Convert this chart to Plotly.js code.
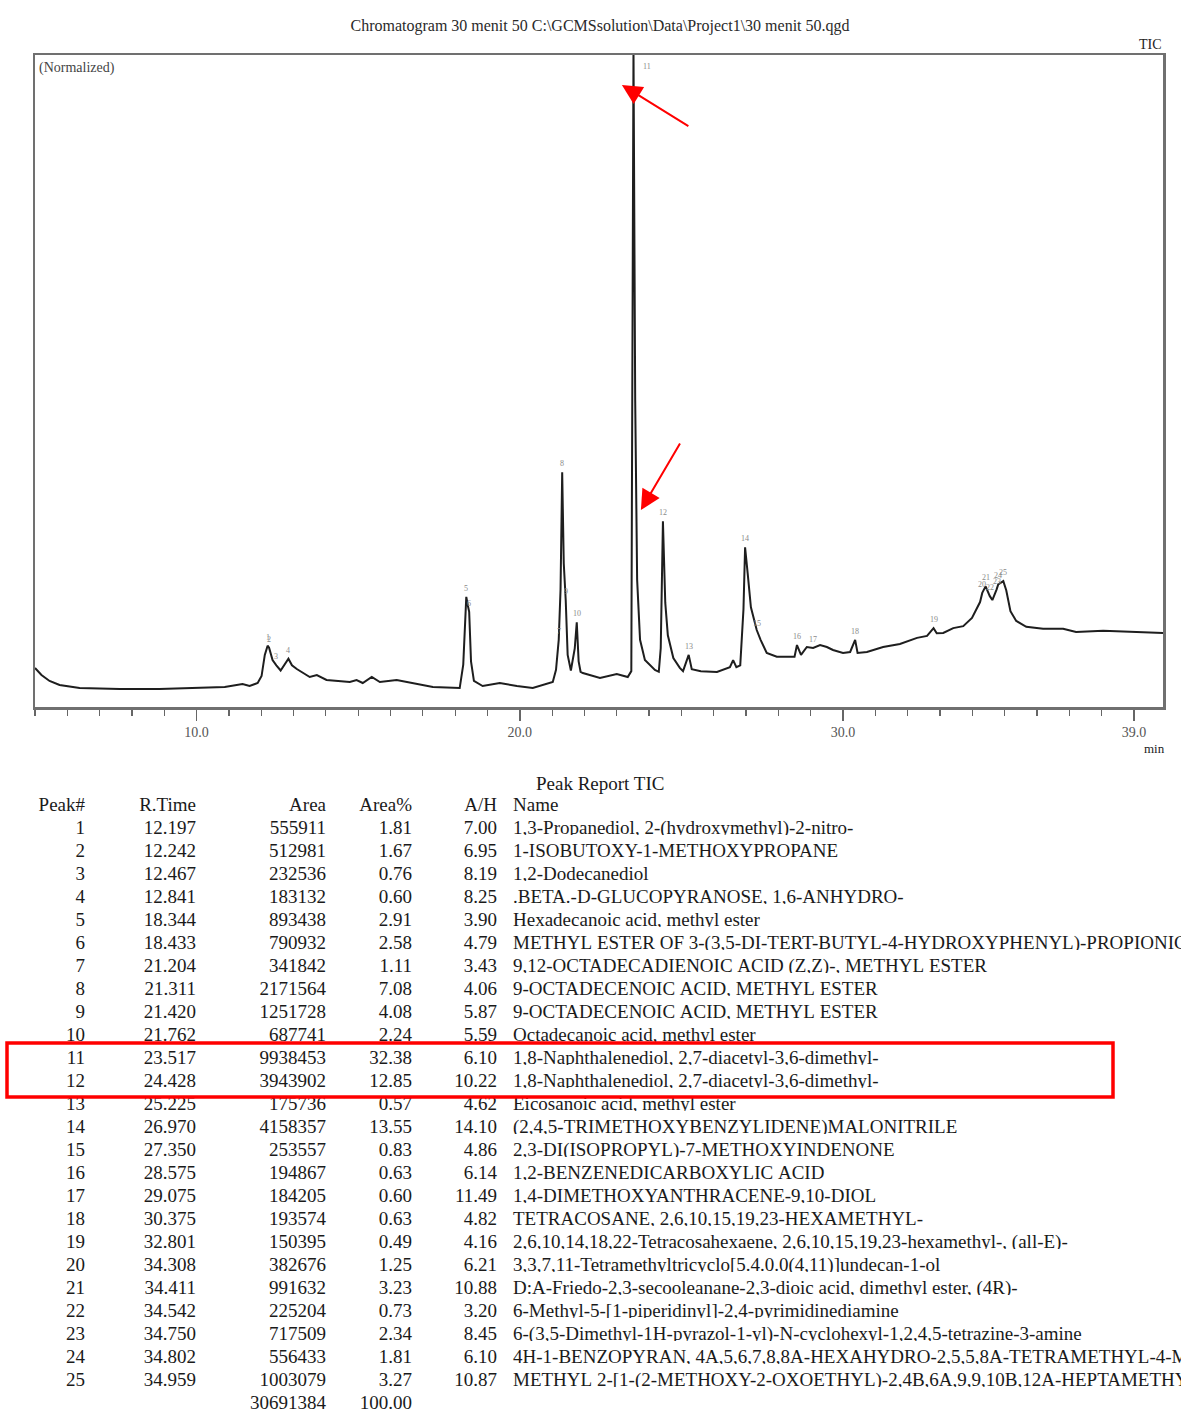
<!DOCTYPE html>
<html>
<head>
<meta charset="utf-8">
<script src="https://cdn.plot.ly/plotly-3.0.1.min.js"></script>
<style>html,body{margin:0;padding:0;background:#fff;}#chart{width:1181px;height:1410px;}</style>
</head>
<body>
<div id="chart"></div>
<script>
// ---- Chromatogram trace (TIC, normalized) ----
const ticTime = [5.00,5.20,5.45,5.76,6.38,7.62,8.85,10.09,10.87,11.42,11.64,11.89,12.01,12.11,12.197,12.242,12.35,12.467,12.60,12.841,12.95,13.10,13.50,13.72,14.02,14.74,14.95,15.14,15.42,15.67,16.19,17.31,18.14,18.25,18.344,18.39,18.433,18.49,18.58,18.85,19.38,19.91,20.40,21.02,21.12,21.204,21.26,21.311,21.36,21.420,21.48,21.58,21.70,21.762,21.82,21.88,21.95,22.48,23.00,23.34,23.45,23.517,23.57,23.63,23.72,23.87,24.18,24.30,24.36,24.428,24.50,24.58,24.75,24.95,25.05,25.225,25.32,25.60,26.10,26.50,26.60,26.70,26.82,26.92,26.970,27.05,27.15,27.33,27.45,27.64,27.95,28.50,28.575,28.70,28.88,29.075,29.29,29.50,29.69,30.00,30.22,30.375,30.45,30.74,31.24,31.76,32.29,32.60,32.801,32.90,33.10,33.41,33.72,33.99,34.24,34.308,34.411,34.542,34.62,34.750,34.802,34.959,35.05,35.18,35.36,35.67,36.19,36.81,37.21,38.05,39.08,39.90];
const ticIntensity = [5.98,4.91,3.99,3.37,2.91,2.76,2.76,2.91,3.07,3.53,3.22,3.68,4.75,7.98,9.4,9.1,7.2,6.4,5.6,7.4,6.4,5.83,4.60,4.91,4.14,3.83,4.14,3.68,4.60,3.83,4.14,3.07,2.91,6.5,16.9,15.6,14.6,7.0,3.99,3.22,3.68,3.22,2.91,3.83,5.7,10.3,18.0,36.0,22.0,16.4,8.0,5.6,9.0,13.0,7.0,5.4,5.21,4.45,5.06,4.60,5.5,101,47,19.5,10.3,7.2,5.67,5.4,9.0,28.5,16.0,11.0,7.5,6.0,5.5,8.0,5.8,5.5,5.37,6.1,7.2,6.1,6.4,15.0,24.5,20.5,15.3,11.8,10.3,8.3,7.7,7.7,9.5,8.0,9.2,9.05,9.5,9.2,8.74,8.28,8.44,10.3,8.3,8.44,9.2,9.66,10.6,10.9,12.1,11.3,11.35,12.1,12.4,13.65,16.1,17.5,18.5,17.0,16.4,18.0,18.8,19.3,17.9,14.7,13.2,12.3,12.0,12.0,11.5,11.7,11.5,11.35];

// ---- Axis tick labels ----
const xTickVals = [10, 20, 30, 39];
const xTickText = ['10.0', '20.0', '30.0', '39.0'];

// ---- Peak report table ----
const peakNo = ['1','2','3','4','5','6','7','8','9','10','11','12','13','14','15','16','17','18','19','20','21','22','23','24','25'];
const rTime = [12.197,12.242,12.467,12.841,18.344,18.433,21.204,21.311,21.420,21.762,23.517,24.428,25.225,26.970,27.350,28.575,29.075,30.375,32.801,34.308,34.411,34.542,34.750,34.802,34.959];
const area = [555911,512981,232536,183132,893438,790932,341842,2171564,1251728,687741,9938453,3943902,175736,4158357,253557,194867,184205,193574,150395,382676,991632,225204,717509,556433,1003079];
const areaPct = ['1.81','1.67','0.76','0.60','2.91','2.58','1.11','7.08','4.08','2.24','32.38','12.85','0.57','13.55','0.83','0.63','0.60','0.63','0.49','1.25','3.23','0.73','2.34','1.81','3.27'];
const aH = ['7.00','6.95','8.19','8.25','3.90','4.79','3.43','4.06','5.87','5.59','6.10','10.22','4.62','14.10','4.86','6.14','11.49','4.82','4.16','6.21','10.88','3.20','8.45','6.10','10.87'];
const names = [
 '1,3-Propanediol, 2-(hydroxymethyl)-2-nitro-',
 '1-ISOBUTOXY-1-METHOXYPROPANE',
 '1,2-Dodecanediol',
 '.BETA.-D-GLUCOPYRANOSE, 1,6-ANHYDRO-',
 'Hexadecanoic acid, methyl ester',
 'METHYL ESTER OF 3-(3,5-DI-TERT-BUTYL-4-HYDROXYPHENYL)-PROPIONIC ACID',
 '9,12-OCTADECADIENOIC ACID (Z,Z)-, METHYL ESTER',
 '9-OCTADECENOIC ACID, METHYL ESTER',
 '9-OCTADECENOIC ACID, METHYL ESTER',
 'Octadecanoic acid, methyl ester',
 '1,8-Naphthalenediol, 2,7-diacetyl-3,6-dimethyl-',
 '1,8-Naphthalenediol, 2,7-diacetyl-3,6-dimethyl-',
 'Eicosanoic acid, methyl ester',
 '(2,4,5-TRIMETHOXYBENZYLIDENE)MALONITRILE',
 '2,3-DI(ISOPROPYL)-7-METHOXYINDENONE',
 '1,2-BENZENEDICARBOXYLIC ACID',
 '1,4-DIMETHOXYANTHRACENE-9,10-DIOL',
 'TETRACOSANE, 2,6,10,15,19,23-HEXAMETHYL-',
 '2,6,10,14,18,22-Tetracosahexaene, 2,6,10,15,19,23-hexamethyl-, (all-E)-',
 '3,3,7,11-Tetramethyltricyclo[5.4.0.0(4,11)]undecan-1-ol',
 'D:A-Friedo-2,3-secooleanane-2,3-dioic acid, dimethyl ester, (4R)-',
 '6-Methyl-5-[1-piperidinyl]-2,4-pyrimidinediamine',
 '6-(3,5-Dimethyl-1H-pyrazol-1-yl)-N-cyclohexyl-1,2,4,5-tetrazine-3-amine',
 '4H-1-BENZOPYRAN, 4A,5,6,7,8,8A-HEXAHYDRO-2,5,5,8A-TETRAMETHYL-4-METHYLENE-',
 'METHYL 2-[1-(2-METHOXY-2-OXOETHYL)-2,4B,6A,9,9,10B,12A-HEPTAMETHYL-'
];
const headers = ['Peak#', 'R.Time', 'Area', 'Area%', 'A/H', 'Name'];
const totalArea = 30691384;
const totalPct = '100.00';

const W = 1181, H = 1410;
const serif = 'Liberation Serif, Times New Roman, serif';

function interp(t) {
  for (let i = 1; i < ticTime.length; i++) {
    if (t <= ticTime[i]) {
      const f = (t - ticTime[i-1]) / (ticTime[i] - ticTime[i-1]);
      return ticIntensity[i-1] + f * (ticIntensity[i] - ticIntensity[i-1]);
    }
  }
  return ticIntensity[ticIntensity.length-1];
}

const nb = s => String(s).replace(/ /g, '\u00a0');

const traceTIC = {
  type: 'scatter', mode: 'lines', x: ticTime, y: ticIntensity,
  line: {color: '#1e1e1e', width: 2}, hoverinfo: 'skip', showlegend: false,
  xaxis: 'x', yaxis: 'y'
};

const tableFont = {family: serif, size: 19, color: '#1a1a1a'};
const table = {
  type: 'table',
  domain: {x: [0, 1], y: [0, (H - 789) / H]},
  columnwidth: [93, 111, 130, 86, 85, 676],
  header: {
    values: headers.map(nb),
    align: ['right','right','right','right','right','left'],
    font: tableFont,
    height: 23, fill: {color: '#fff'}, line: {color: '#fff', width: 0}
  },
  cells: {
    values: [
      peakNo.concat(['']),
      rTime.map(v => v.toFixed(3)).concat(['']),
      area.map(String).concat([String(totalArea)]),
      areaPct.concat([totalPct]),
      aH.concat(['']),
      names.map(nb).concat([''])
    ],
    align: ['right','right','right','right','right','left'],
    font: tableFont,
    height: 23, fill: {color: '#fff'}, line: {color: '#fff', width: 0}
  }
};

const annotations = [];
rTime.forEach((t, i) => {
  let y = interp(t);
  let xs = 0;
  if (y > 96) { y = 97; xs = 14; }
  annotations.push({x: t, y: y, xref: 'x', yref: 'y', text: peakNo[i], showarrow: false,
    yanchor: 'bottom', yshift: 2, xshift: xs, font: {family: serif, size: 8, color: '#8a8a8a'}});
});
// red arrows
annotations.push({x: 23.158, y: 95.4, xref: 'x', yref: 'y', ax: 68, ay: 42, text: '', showarrow: true,
  arrowhead: 2, arrowsize: 2, arrowwidth: 2, arrowcolor: '#ff0000', standoff: 0});
annotations.push({x: 23.746, y: 30.2, xref: 'x', yref: 'y', ax: 40, ay: -68, text: '', showarrow: true,
  arrowhead: 2, arrowsize: 2, arrowwidth: 2, arrowcolor: '#ff0000', standoff: 0});
// texts
annotations.push({xref: 'paper', yref: 'paper', x: 37/W, y: 1 - 68/H, xanchor: 'left', yanchor: 'middle',
  text: '(Normalized)', showarrow: false, font: {family: serif, size: 14, color: '#444'}});
annotations.push({xref: 'paper', yref: 'paper', x: 1164/W, y: 1 - 44/H, xanchor: 'right', yanchor: 'middle',
  text: 'TIC', showarrow: false, font: {family: serif, size: 14, color: '#222'}});
annotations.push({xref: 'paper', yref: 'paper', x: 1167/W, y: 1 - 748/H, xanchor: 'right', yanchor: 'middle',
  text: 'min', showarrow: false, font: {family: serif, size: 13, color: '#222'}});
annotations.push({xref: 'paper', yref: 'paper', x: 600/W, y: 1 - 783/H, xanchor: 'center', yanchor: 'middle',
  text: 'Peak Report TIC', showarrow: false, font: {family: serif, size: 19, color: '#1a1a1a'}});

const layout = {
  width: W, height: H,
  margin: {l: 0, r: 0, t: 0, b: 0},
  paper_bgcolor: '#fff', plot_bgcolor: '#fff',
  showlegend: false,
  title: {text: 'Chromatogram 30 menit 50 C:\\GCMSsolution\\Data\\Project1\\30 menit 50.qgd',
    font: {family: serif, size: 16, color: '#2a2a2a'}, x: 600/W, xanchor: 'center',
    y: 1 - 25/H, yanchor: 'middle', yref: 'container', xref: 'paper'},
  xaxis: {
    domain: [35/W, 1163/W], range: [5.0, 39.9],
    tickmode: 'array', tickvals: xTickVals, ticktext: xTickText,
    ticks: 'outside', ticklen: 11, tickwidth: 1.5, tickcolor: '#666',
    tickfont: {family: serif, size: 14, color: '#555'},
    minor: {tickmode: 'linear', tick0: 0, dtick: 1, ticks: 'outside', ticklen: 6, tickwidth: 1.2, tickcolor: '#666', showgrid: false},
    showline: true, linecolor: '#707070', linewidth: 2.5, mirror: true,
    showgrid: false, zeroline: false, fixedrange: true
  },
  yaxis: {
    domain: [(H - 707)/H, (H - 55)/H], range: [0, 100],
    showticklabels: false, ticks: '',
    showline: true, linecolor: '#707070', linewidth: 2.5, mirror: true,
    showgrid: false, zeroline: false, fixedrange: true
  },
  annotations: annotations,
  shapes: [{type: 'rect', xref: 'paper', yref: 'paper', x0: 7/W, x1: 1113/W, y0: 1 - 1097/H, y1: 1 - 1043/H,
    line: {color: '#ff0000', width: 3.5}, fillcolor: 'rgba(0,0,0,0)', layer: 'above'}]
};

Plotly.newPlot('chart', [traceTIC, table], layout, {displayModeBar: false, staticPlot: true});
</script>
</body>
</html>
